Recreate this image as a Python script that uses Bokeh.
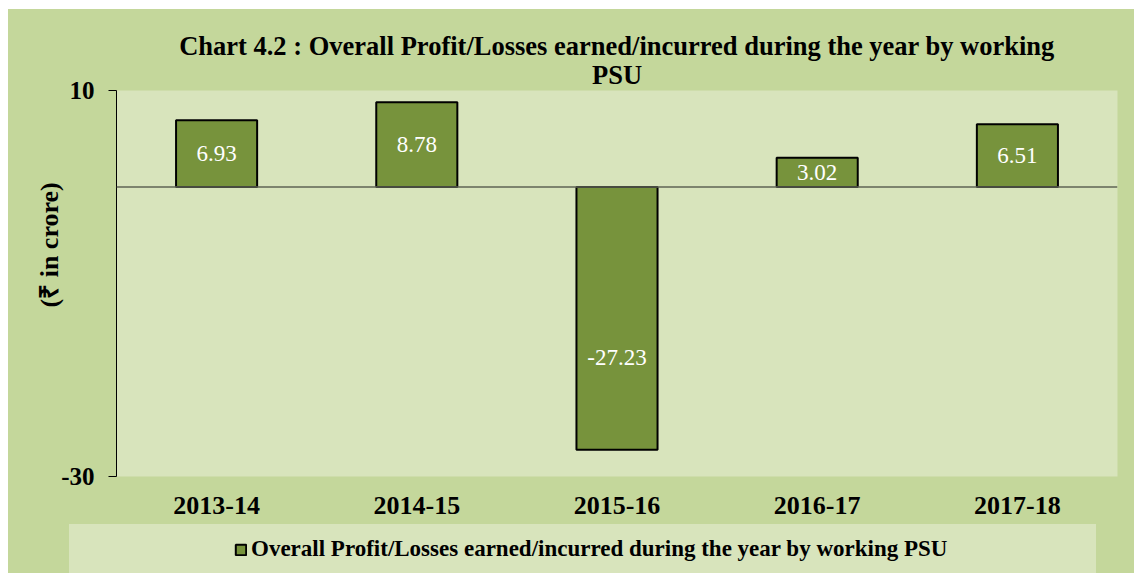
import numpy as np
from bokeh.plotting import figure
from bokeh.layouts import column
from bokeh.models import (ColumnDataSource, Range1d, FactorRange, FixedTicker, Span,
                          LabelSet, Legend, LegendItem, Title)
from bokeh.embed import file_html
from bokeh.resources import INLINE

years = ["2013-14", "2014-15", "2015-16", "2016-17", "2017-18"]
profit = [6.93, 8.78, -27.23, 3.02, 6.51]
labels = ["6.93", "8.78", "-27.23", "3.02", "6.51"]
series_name = "Overall Profit/Losses earned/incurred during the year by working PSU"
chart_title = "Chart 4.2 : Overall Profit/Losses earned/incurred during the year by working\nPSU"
y_ticks = [-30, 10]
y_tick_labels = {-30: "-30", 10: "10"}

FONT = "Times New Roman"
OUTER = "#C4D79B"
INNER = "#D8E4BC"
BAR = "#77933C"

vals = np.array(profit)
label_y = np.where(vals > 0, vals / 2, vals * 0.65)

src = ColumnDataSource(dict(x=years, top=profit, label=labels, ly=label_y))

p = figure(x_range=FactorRange(*years), y_range=Range1d(-30, 10),
           width=1126, height=515, output_backend="svg", toolbar_location=None,
           background_fill_color=INNER, border_fill_color=OUTER,
           min_border_left=108, min_border_right=17, min_border_top=81, min_border_bottom=48)
p.outline_line_color = None
p.xgrid.grid_line_color = None
p.ygrid.grid_line_color = None

r = p.vbar(x="x", top="top", bottom=0, width=0.405, source=src,
           fill_color=BAR, line_color="black", line_width=2)

p.add_layout(Span(location=0, dimension="width", line_color="#5f6555", line_width=1.5))

p.add_layout(LabelSet(x="x", y="ly", text="label", source=src, text_color="white",
                      text_font=FONT, text_font_size="23px", text_align="center",
                      text_baseline="middle"))

# axes
p.yaxis.ticker = FixedTicker(ticks=y_ticks)
p.yaxis.major_label_overrides = y_tick_labels
p.yaxis.minor_tick_line_color = None
p.yaxis.major_tick_out = 8
p.yaxis.major_tick_in = 0
p.yaxis.axis_line_color = "black"
p.yaxis.major_tick_line_color = "black"
p.yaxis.major_label_text_font = FONT
p.yaxis.major_label_text_font_style = "bold"
p.yaxis.major_label_text_font_size = "25px"
p.yaxis.major_label_text_color = "black"
p.yaxis.major_label_standoff = 14

p.xaxis.axis_line_color = None
p.xaxis.major_tick_line_color = None
p.xaxis.minor_tick_line_color = None
p.xaxis.major_label_text_font = FONT
p.xaxis.major_label_text_font_style = "bold"
p.xaxis.major_label_text_font_size = "26px"
p.xaxis.major_label_text_color = "black"
p.xaxis.major_label_standoff = 14

p.add_layout(Title(text="(₹ in crore)", align="left", offset=169, text_font=FONT,
                   text_font_size="26px", text_font_style="bold", text_color="black",
                   standoff=-11), "left")

p.add_layout(Title(text=chart_title, align="center", text_align="center", text_font=FONT,
                   text_font_size="26.5px", text_line_height=0.95,
                   text_font_style="bold", text_color="black", standoff=2), "above")

# legend strip
p2 = figure(width=1027, height=49, output_backend="svg", toolbar_location=None,
            x_axis_type=None, y_axis_type=None,
            x_range=Range1d(0, 1), y_range=Range1d(0, 1),
            background_fill_color=None, border_fill_color=None,
            min_border_left=0, min_border_right=0, min_border_top=0, min_border_bottom=0,
            margin=(0, 38, 0, 61), styles={"background-color": INNER})
p2.outline_line_color = None
p2.xgrid.grid_line_color = None
p2.ygrid.grid_line_color = None
r2 = p2.vbar(x=[0.5], top=[float("nan")], width=0.5, fill_color=BAR,
             line_color="black", line_width=2)

legend = Legend(items=[LegendItem(label=series_name, renderers=[r2])],
                location=(57, 11), orientation="horizontal",
                background_fill_alpha=0, border_line_color=None,
                label_text_font=FONT, label_text_font_style="bold", label_text_font_size="23px",
                label_text_color="black",
                glyph_width=13, glyph_height=13, label_standoff=4, padding=0, margin=0)
p2.add_layout(legend, "center")

layout = column(p, p2, spacing=0, margin=(9, 0, 0, 8),
                styles={"background-color": OUTER})

open("out.html", "w").write(file_html(layout, INLINE))
